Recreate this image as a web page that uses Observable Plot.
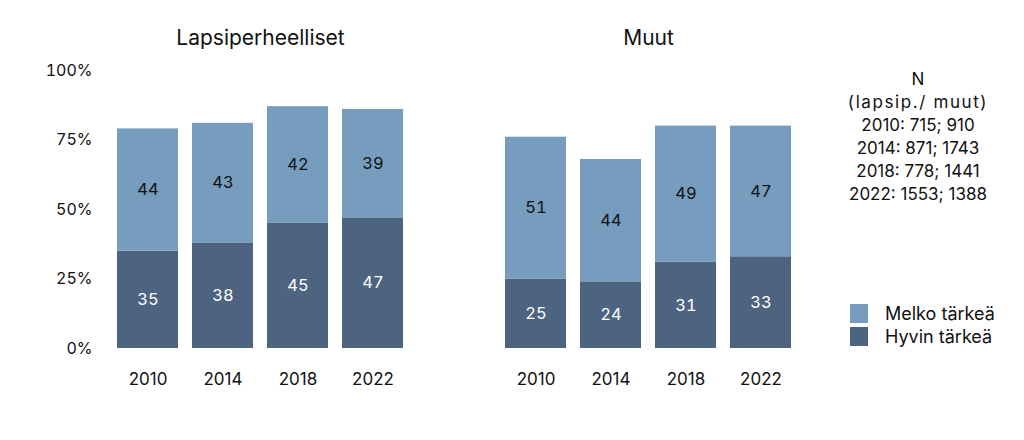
<!DOCTYPE html>
<html><head><meta charset="utf-8">
<script src="https://cdn.jsdelivr.net/npm/d3@7"></script>
<script src="https://cdn.jsdelivr.net/npm/@observablehq/plot@0.6"></script>
<style>
body{margin:0;background:#fff;font-family:Inter,"Open Sans",sans-serif;}
#wrap{position:relative;width:1024px;height:440px;}
#nbox{position:absolute;left:818px;top:68px;width:200px;text-align:center;font-size:17px;line-height:23px;color:#111;}
#nbox .wide{letter-spacing:1.6px;}
#legend{position:absolute;left:850px;top:302px;font-size:18px;color:#111;}
.li{display:flex;align-items:center;height:23px;}
.sw{width:18px;height:19px;margin-right:17px;}
</style></head>
<body><div id="wrap"><div id="chart"></div>
<div id="nbox"></div>
<div id="legend"></div></div>
<script>
const years = ["2010","2014","2018","2022"];
const groups = ["Lapsiperheelliset","Muut"];
const series = ["Hyvin tärkeä","Melko tärkeä"];
const lapsiHyvin = [35,38,45,47];
const lapsiMelko = [44,43,42,39];
const muutHyvin = [25,24,31,33];
const muutMelko = [51,44,49,47];
const yTicks = [0,25,50,75,100];
const nLines = ["N","(lapsip./ muut)","2010: 715; 910","2014: 871; 1743","2018: 778; 1441","2022: 1553; 1388"];
const legendItems = ["Melko tärkeä","Hyvin tärkeä"];
const dark = "#4d6481", light = "#769cbe";

const data = [];
years.forEach((yr,i)=>{
  data.push({group:groups[0],year:yr,series:series[0],value:lapsiHyvin[i]});
  data.push({group:groups[0],year:yr,series:series[1],value:lapsiMelko[i]});
  data.push({group:groups[1],year:yr,series:series[0],value:muutHyvin[i]});
  data.push({group:groups[1],year:yr,series:series[1],value:muutMelko[i]});
});

const chart = Plot.plot({
  width:1024, height:440,
  marginLeft:110, marginRight:226, marginTop:70, marginBottom:92,
  style:{fontFamily:"Inter, 'Open Sans', sans-serif", color:"#111", background:"#fff"},
  fx:{domain:groups, paddingInner:0.227, paddingOuter:0, label:null},
  x:{domain:years, paddingInner:0.187, paddingOuter:0.093, label:null},
  y:{domain:[0,100], label:null},
  color:{domain:series, range:[dark, light]},
  marks:[
    Plot.barY(data,{fx:"group",x:"year",y:"value",fill:"series",order:series}),
    Plot.text(data, Plot.stackY({fx:"group",x:"year",y:"value",z:"series",order:series,
      text:d=>d.series===series[0]?d.value:null, fill:"white", fontSize:16.5})),
    Plot.text(data, Plot.stackY({fx:"group",x:"year",y:"value",z:"series",order:series,
      text:d=>d.series===series[1]?d.value:null, fill:"#111", fontSize:16.5})),
    Plot.axisY({ticks:yTicks, tickFormat:d=>d+"%", tickSize:0, tickPadding:18, fontSize:16, label:null}),
    Plot.axisX({tickSize:0, tickPadding:24, fontSize:17, label:null}),
    Plot.axisFx({anchor:"top", tickSize:0, tickPadding:26, fontSize:21, label:null})
  ]
});
document.getElementById("chart").appendChild(chart);
document.getElementById("nbox").innerHTML = nLines.map((s,i)=>`<div class="${i===1?'wide':''}">${s}</div>`).join("");
document.getElementById("legend").innerHTML = legendItems.map(s=>
  `<div class="li"><div class="sw" style="background:${s===series[0]?dark:light}"></div><span>${s}</span></div>`).join("");
</script></body></html>
